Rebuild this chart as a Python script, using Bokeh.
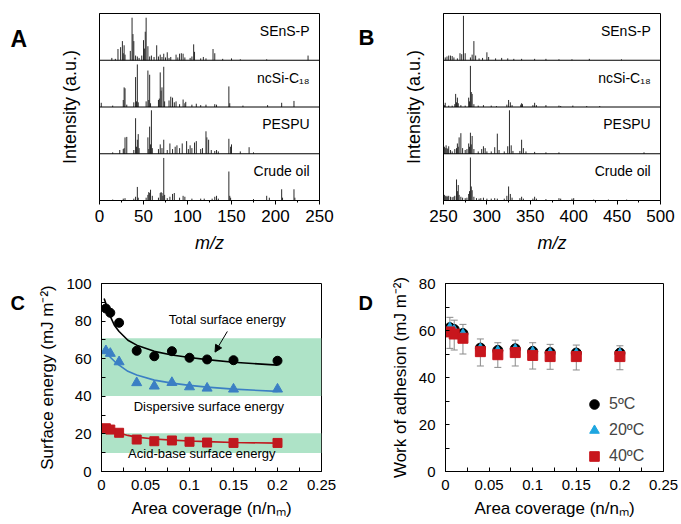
from bokeh.plotting import figure
from bokeh.layouts import column, row
from bokeh.models import (Label, Arrow, NormalHead, BoxAnnotation, FixedTicker, Legend,
                          LegendItem, Whisker, TeeHead, ColumnDataSource, Range1d, Span)
from bokeh.embed import file_html
from bokeh.resources import INLINE

FONT = "Liberation Sans"

# ---------------- Panel A data (m/z 0-250) ----------------
spectrum_names = ["Crude oil", "PESPU", "ncSi-C\u2081\u2088", "SEnS-P"]   # bottom -> top

A_sens_mz = [14, 18, 21, 24, 26, 27, 28, 29, 35, 37, 38, 39, 41, 43, 45, 48, 50, 51, 52, 53, 55, 57, 59, 62, 65, 67, 69, 71, 73, 75, 77, 79, 81, 87, 89, 91, 93, 95, 97, 103, 105, 107, 108, 115, 118, 121, 129, 131, 140, 150, 160, 190, 237]
A_sens_int = [0.05, 0.03, 0.24, 0.28, 0.41, 0.15, 0.32, 0.12, 0.20, 0.91, 0.56, 0.41, 0.10, 0.08, 0.05, 0.10, 0.43, 0.25, 0.61, 0.91, 0.30, 0.08, 0.10, 0.07, 0.32, 0.08, 0.12, 0.07, 0.14, 0.06, 0.17, 0.05, 0.07, 0.12, 0.06, 0.14, 0.15, 0.14, 0.06, 0.05, 0.08, 0.34, 0.18, 0.04, 0.07, 0.04, 0.24, 0.15, 0.03, 0.04, 0.02, 0.02, 0.10]

A_ncsi_mz = [2, 15, 27, 28, 29, 31, 39, 41, 42, 43, 44, 53, 55, 56, 57, 58, 67, 68, 69, 70, 71, 73, 74, 79, 81, 83, 85, 87, 91, 95, 97, 98, 105, 110, 115, 121, 131, 133, 147, 148, 163, 191, 207, 221]
A_ncsi_int = [0.09, 0.03, 0.15, 0.42, 0.40, 0.05, 0.10, 0.64, 0.12, 0.91, 0.10, 0.12, 0.78, 0.15, 0.69, 0.08, 0.15, 0.18, 0.74, 0.35, 0.42, 0.86, 0.12, 0.14, 0.22, 0.20, 0.10, 0.12, 0.06, 0.16, 0.08, 0.11, 0.05, 0.07, 0.04, 0.05, 0.06, 0.05, 0.44, 0.08, 0.03, 0.04, 0.09, 0.13]

A_pespu_mz = [15, 23, 27, 28, 29, 31, 39, 41, 42, 43, 44, 45, 55, 56, 57, 58, 59, 60, 67, 69, 71, 73, 77, 80, 83, 86, 88, 91, 94, 99, 101, 103, 105, 108, 110, 115, 117, 121, 122, 124, 127, 131, 133, 135, 147, 149, 150, 160, 170, 175]
A_pespu_int = [0.03, 0.08, 0.10, 0.12, 0.35, 0.36, 0.08, 0.76, 0.15, 0.30, 0.42, 0.12, 0.35, 0.10, 0.58, 0.20, 0.93, 0.12, 0.10, 0.20, 0.12, 0.30, 0.08, 0.22, 0.10, 0.15, 0.18, 0.12, 0.22, 0.27, 0.10, 0.18, 0.12, 0.24, 0.27, 0.10, 0.12, 0.48, 0.35, 0.30, 0.08, 0.06, 0.08, 0.05, 0.32, 0.15, 0.20, 0.05, 0.14, 0.03]

A_crude_mz = [15, 27, 29, 39, 41, 43, 44, 53, 55, 56, 57, 58, 60, 67, 69, 70, 71, 72, 73, 74, 77, 80, 83, 85, 91, 95, 97, 105, 115, 119, 128, 131, 133, 135, 147, 148, 149, 175, 190, 193, 207, 208, 221, 222]
A_crude_int = [0.02, 0.04, 0.05, 0.04, 0.08, 0.29, 0.06, 0.06, 0.12, 0.18, 0.16, 0.23, 0.10, 0.06, 0.16, 0.18, 0.16, 0.10, 0.91, 0.12, 0.05, 0.08, 0.14, 0.16, 0.06, 0.10, 0.08, 0.04, 0.04, 0.04, 0.04, 0.08, 0.10, 0.04, 0.62, 0.10, 0.06, 0.03, 0.10, 0.06, 0.24, 0.06, 0.24, 0.06]

A_ticks = [0, 50, 100, 150, 200, 250]

# ---------------- Panel B data (m/z 250-500) ----------------
B_sens_mz = [252, 254, 256, 258, 260, 262, 266, 269, 271, 273, 275, 281, 283, 285, 287, 291, 295, 300, 302, 310, 317, 324, 331, 340, 355, 368, 383, 398, 418, 455]
B_sens_int = [0.06, 0.08, 0.10, 0.10, 0.09, 0.06, 0.04, 0.15, 0.13, 0.95, 0.15, 0.06, 0.12, 0.41, 0.10, 0.04, 0.05, 0.17, 0.07, 0.04, 0.05, 0.04, 0.03, 0.03, 0.03, 0.03, 0.02, 0.02, 0.03, 0.02]

B_ncsi_mz = [251, 252, 256, 260, 263, 264, 265, 266, 267, 270, 275, 279, 280, 281, 282, 283, 285, 290, 296, 305, 311, 323, 325, 327, 329, 339, 340, 341, 353, 355, 357, 368, 383, 385, 399, 415, 430]
B_ncsi_int = [0.04, 0.09, 0.03, 0.03, 0.06, 0.28, 0.10, 0.20, 0.08, 0.04, 0.03, 0.20, 0.12, 0.88, 0.32, 0.28, 0.06, 0.03, 0.04, 0.03, 0.02, 0.05, 0.15, 0.10, 0.04, 0.05, 0.08, 0.06, 0.04, 0.09, 0.04, 0.04, 0.03, 0.02, 0.03, 0.02, 0.02]

B_pespu_mz = [250, 251, 252, 253, 254, 255, 256, 258, 260, 263, 265, 266, 267, 268, 270, 272, 275, 277, 279, 280, 281, 282, 283, 285, 290, 294, 296, 298, 300, 305, 309, 312, 314, 320, 324, 326, 328, 330, 338, 340, 342, 345, 355, 368, 383, 481]
B_pespu_int = [0.20, 0.15, 0.12, 0.18, 0.12, 0.10, 0.16, 0.08, 0.05, 0.10, 0.12, 0.22, 0.15, 0.35, 0.44, 0.12, 0.08, 0.10, 0.22, 0.15, 0.45, 0.20, 0.38, 0.10, 0.05, 0.10, 0.16, 0.12, 0.05, 0.05, 0.14, 0.43, 0.08, 0.05, 0.16, 0.93, 0.18, 0.06, 0.06, 0.30, 0.12, 0.05, 0.04, 0.03, 0.03, 0.03]

B_crude_mz = [250, 251, 252, 253, 254, 255, 256, 258, 260, 262, 263, 265, 266, 267, 268, 270, 272, 275, 277, 279, 280, 281, 282, 283, 285, 288, 291, 293, 296, 300, 305, 309, 312, 320, 323, 325, 327, 329, 338, 340, 342, 353, 355, 357, 368, 383, 385, 398, 400, 423, 440, 461]
B_crude_int = [0.37, 0.12, 0.10, 0.08, 0.10, 0.08, 0.10, 0.08, 0.07, 0.08, 0.10, 0.45, 0.20, 0.33, 0.12, 0.08, 0.06, 0.05, 0.06, 0.14, 0.20, 0.92, 0.30, 0.22, 0.08, 0.05, 0.04, 0.05, 0.06, 0.04, 0.04, 0.05, 0.04, 0.04, 0.10, 0.30, 0.14, 0.06, 0.05, 0.08, 0.04, 0.04, 0.08, 0.04, 0.03, 0.05, 0.04, 0.04, 0.05, 0.02, 0.02, 0.02]

B_ticks = [250, 300, 350, 400, 450, 500]

# ---------------- Panel C data ----------------
coverage = [0.005, 0.01, 0.02, 0.04, 0.06, 0.08, 0.10, 0.12, 0.15, 0.20]
total_energy = [86.7, 84.4, 79.1, 64.2, 61.3, 64.0, 60.5, 59.6, 59.2, 58.9]
dispersive_energy = [64.2, 62.8, 58.3, 47.2, 45.4, 47.3, 45.0, 44.3, 43.8, 43.8]
acidbase_energy = [23.0, 22.3, 20.6, 17.0, 16.1, 16.5, 15.8, 15.4, 15.2, 15.2]

fit_coverage = [0.003, 0.007, 0.01, 0.015, 0.02, 0.03, 0.04, 0.06, 0.08, 0.10, 0.12, 0.15, 0.20]
fit_total = [92.0, 86.5, 82.5, 77.5, 74.5, 69.8, 67.2, 63.9, 62.0, 60.6, 59.5, 58.1, 56.6]
fit_dispersive = [65.6, 62.5, 60.8, 58.5, 56.6, 53.3, 51.3, 48.6, 47.0, 45.8, 44.9, 43.8, 42.6]
fit_acidbase = [23.1, 22.5, 22.0, 21.2, 20.5, 19.2, 18.3, 17.3, 16.7, 16.2, 15.9, 15.4, 15.1]

band_dispersive = [40.2, 70.9]
band_acidbase = [9.8, 20.4]

# ---------------- Panel D data ----------------
wa_5C = [61.2, 60.4, 58.7, 52.5, 51.5, 52.2, 51.1, 50.6, 50.4, 50.4]
wa_20C = [61.6, 60.6, 58.9, 52.7, 51.7, 52.4, 51.3, 50.8, 50.6, 50.6]
wa_40C = [59.4, 58.5, 56.7, 51.0, 49.7, 50.6, 49.4, 48.9, 48.9, 48.9]
wa_err_upper = [65.6, 64.4, 62.6, 56.4, 54.8, 55.9, 54.8, 54.1, 53.8, 53.5]
wa_err_lower = [52.4, 51.7, 50.0, 44.9, 44.3, 44.9, 43.6, 43.5, 43.2, 43.3]

cov_ticks = [0, 0.05, 0.1, 0.15, 0.2, 0.25]
cov_minor = [0.025, 0.075, 0.125, 0.175, 0.225]

LW_LEFT = 30    # width of the letter strip, left column
LW_RIGHT = 38   # width of the letter strip, right column


def base_fig(width, height, xr, yr, bl, br, bt, bb):
    p = figure(width=width, height=height, x_range=Range1d(*xr), y_range=Range1d(*yr),
               output_backend="svg", toolbar_location=None,
               min_border_left=bl, min_border_right=br, min_border_top=bt, min_border_bottom=bb)
    p.xgrid.visible = False
    p.ygrid.visible = False
    p.outline_line_color = "black"
    p.outline_line_alpha = 1
    p.outline_line_width = 1
    p.background_fill_color = "white"
    p.border_fill_color = "white"
    for ax in (p.xaxis[0], p.yaxis[0]):
        ax.axis_line_color = "black"
        ax.major_tick_line_color = "black"
        ax.minor_tick_line_color = "black"
        ax.major_label_text_font = FONT
        ax.axis_label_text_font = FONT
        ax.axis_label_text_font_style = "normal"
        ax.major_label_text_color = "black"
        ax.axis_label_text_color = "black"
    return p


def letter_fig(text, width, height, x, baseline_from_top, size):
    # a narrow figure whose data units equal pixels; it only holds the panel letter
    p = figure(width=width, height=height, x_range=Range1d(0, width),
               y_range=Range1d(0, height), x_axis_type=None, y_axis_type=None,
               output_backend="svg", toolbar_location=None,
               min_border_left=0, min_border_right=0, min_border_top=0, min_border_bottom=0)
    p.outline_line_color = None
    p.xgrid.visible = False
    p.ygrid.visible = False
    p.add_layout(Label(x=x, y=height - baseline_from_top, text=text, text_font=FONT,
                       text_font_style="bold", text_font_size=size,
                       text_color="black", text_baseline="alphabetic"))
    return p


def spectrum_panel(width, xr, ticks, spectra, bl, br):
    p = base_fig(width, 260, xr, (0, 4), bl, br, 13, 60)
    for base, (mz, inten) in enumerate(spectra):
        p.segment(x0=mz, x1=mz, y0=[base] * len(mz), y1=[base + v for v in inten],
                  line_color="#2a2a2a", line_width=1)
        p.add_layout(Label(x=xr[0] + 0.955 * (xr[1] - xr[0]), y=base + 0.8,
                           text=spectrum_names[base], text_align="right", text_baseline="top",
                           text_font=FONT, text_font_size="14px", text_color="black"))
    for k in (1, 2, 3):
        p.add_layout(Span(location=k, dimension="width", line_color="black", line_width=1))
    xa = p.xaxis[0]
    step = ticks[1] - ticks[0]
    xa.ticker = FixedTicker(ticks=ticks, minor_ticks=[t + step / 2 for t in ticks[:-1]])
    xa.major_tick_in = 0
    xa.major_tick_out = 4
    xa.minor_tick_in = 0
    xa.minor_tick_out = 2
    xa.major_label_text_font_size = "17px"
    xa.major_label_standoff = 5
    xa.axis_label = "m/z"
    xa.axis_label_text_font_style = "italic"
    xa.axis_label_text_font_size = "18px"
    xa.axis_label_standoff = 8
    ya = p.yaxis[0]
    ya.ticker = FixedTicker(ticks=[])
    ya.major_tick_in = 0
    ya.major_tick_out = 0
    ya.minor_tick_in = 0
    ya.minor_tick_out = 0
    ya.axis_label = "Intensity (a.u.)"
    ya.axis_label_text_font_size = "18px"
    ya.axis_label_standoff = 20
    return p


# ---- A ----
pA = spectrum_panel(340 - LW_LEFT, (0, 250), A_ticks,
                    [(A_crude_mz, A_crude_int), (A_pespu_mz, A_pespu_int),
                     (A_ncsi_mz, A_ncsi_int), (A_sens_mz, A_sens_int)], 99 - LW_LEFT, 21)
lA = letter_fig("A", LW_LEFT, 260, 10, 35, "23px")

# ---- B ----
pB = spectrum_panel(340 - LW_RIGHT, (250, 500), B_ticks,
                    [(B_crude_mz, B_crude_int), (B_pespu_mz, B_pespu_int),
                     (B_ncsi_mz, B_ncsi_int), (B_sens_mz, B_sens_int)], 103 - LW_RIGHT, 20)
lB = letter_fig("B", LW_RIGHT, 260, 18, 33, "22px")


def coverage_axes(p, yticks, yminor, ylabel):
    xa = p.xaxis[0]
    xa.ticker = FixedTicker(ticks=cov_ticks, minor_ticks=cov_minor)
    xa.major_label_overrides = {0: "0", 0.05: "0.05", 0.1: "0.1", 0.15: "0.15", 0.2: "0.2", 0.25: "0.25"}
    ya = p.yaxis[0]
    ya.ticker = FixedTicker(ticks=yticks, minor_ticks=yminor)
    for ax in (xa, ya):
        ax.major_tick_in = 4
        ax.major_tick_out = 0
        ax.minor_tick_in = 4
        ax.minor_tick_out = 0
        ax.major_label_text_font_size = "15px"
        ax.axis_label_text_font_size = "17px"
    xa.major_label_standoff = 8
    ya.major_label_standoff = 10
    xa.axis_label = "Area coverage (n/n\u2098)"
    xa.axis_label_standoff = 6
    ya.axis_label = ylabel
    ya.axis_label_standoff = 6


# ---- C ----
pC = base_fig(340 - LW_LEFT, 263, (0, 0.25), (0, 100), 101 - LW_LEFT, 19, 23, 52)
coverage_axes(pC, [0, 20, 40, 60, 80, 100], [10, 30, 50, 70, 90], "Surface energy (mJ m\u207b\u00b2)")
for lo, hi in (band_dispersive, band_acidbase):
    pC.add_layout(BoxAnnotation(bottom=lo, top=hi, fill_color="#aee3c7", fill_alpha=1,
                                line_alpha=0, level="underlay"))
pC.line(fit_coverage, fit_total, line_color="black", line_width=1.6)
pC.line(fit_coverage, fit_dispersive, line_color="#3b7fc4", line_width=1.6)
pC.line(fit_coverage, fit_acidbase, line_color="#c0181e", line_width=1.6)
pC.scatter(coverage, total_energy, marker="circle", size=9, fill_color="black", line_color="black")
pC.scatter(coverage, dispersive_energy, marker="triangle", size=10, fill_color="#3b7fc4", line_color="#3b7fc4")
pC.scatter(coverage, acidbase_energy, marker="square", size=9, fill_color="#c0181e", line_color="#c0181e")
for txt, x, y in (("Total surface energy", 0.143, 81),
                  ("Dispersive surface energy", 0.122, 34.4),
                  ("Acid-base surface energy", 0.114, 9.6)):
    pC.add_layout(Label(x=x, y=y, text=txt, text_align="center", text_baseline="middle",
                        text_font=FONT, text_font_size="13px", text_color="black"))
pC.add_layout(Arrow(x_start=0.143, y_start=74.5, x_end=0.129, y_end=63.5,
                    line_color="black", line_width=1,
                    end=NormalHead(size=7, fill_color="black", line_color="black")))
lC = letter_fig("C", LW_LEFT, 263, 10, 27, "20px")

# ---- D ----
pD = base_fig(340 - LW_RIGHT, 263, (0, 0.25), (0, 80), 105 - LW_RIGHT, 17, 23, 51)
coverage_axes(pD, [0, 20, 40, 60, 80], [10, 30, 50, 70], "Work of adhesion (mJ m\u207b\u00b2)")
err_src = ColumnDataSource(dict(base=coverage, upper=wa_err_upper, lower=wa_err_lower))
pD.add_layout(Whisker(source=err_src, base="base", upper="upper", lower="lower",
                      line_color="#8a8a8a", line_width=1,
                      upper_head=TeeHead(size=7, line_color="#8a8a8a"),
                      lower_head=TeeHead(size=7, line_color="#8a8a8a"), level="underlay"))
r5 = pD.scatter(coverage, wa_5C, marker="circle", size=10, fill_color="black", line_color="black")
r20 = pD.scatter(coverage, wa_20C, marker="triangle", size=8, fill_color="#1ea6e0", line_color="#1ea6e0")
r40 = pD.scatter(coverage, wa_40C, marker="square", size=10, fill_color="#c8161d", line_color="#c8161d")
legend = Legend(items=[LegendItem(label="5\u00baC", renderers=[r5]),
                       LegendItem(label="20\u00baC", renderers=[r20]),
                       LegendItem(label="40\u00baC", renderers=[r40])],
                location=(137, 3), border_line_alpha=0, background_fill_alpha=0,
                label_text_font=FONT, label_text_font_size="16px",
                glyph_width=24, glyph_height=24, label_height=24, spacing=2,
                padding=0, margin=0, label_standoff=3)
pD.add_layout(legend)
lD = letter_fig("D", LW_RIGHT, 263, 18, 27, "20px")

layout = column(row(lA, pA, lB, pB), row(lC, pC, lD, pD))
open("out.html", "w").write(file_html(layout, INLINE))
